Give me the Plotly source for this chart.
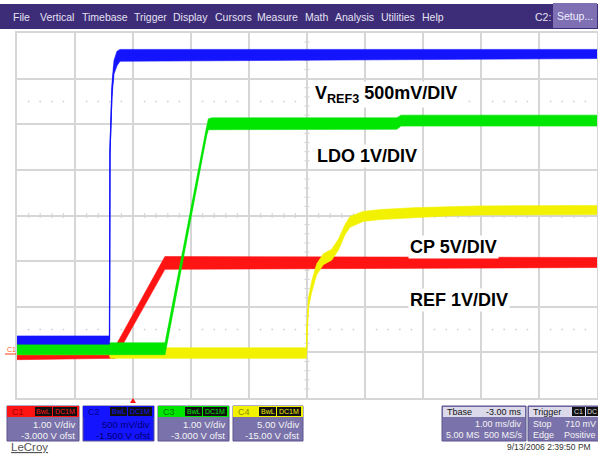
import plotly.graph_objects as go

W, H = 598, 454
# graticule window in pixels (left, right, top, bottom)
GX0, GX1, GY0, GY1 = 17, 597, 33, 398

# time axis (ms) and vertical divisions
t_range = [-2.0, 8.0]
n_vdiv = 8

# channel setup
ch_names = ["C1", "C2", "C3", "C4"]
ch_vdiv = [1.0, 0.5, 1.0, 5.0]
ch_offset = [-3.0, -1.5, -3.0, -15.0]
ch_colors = ["#ff1414", "#1414ff", "#00e600", "#f2f200"]
ch_vdiv_text = ["1.00 V/div", "500 mV/div", "1.00 V/div", "5.00 V/div"]
ch_ofst_text = ["-3.000 V ofst", "-1.500 V ofst", "-3.000 V ofst", "-15.00 V ofst"]

# C1 (REF) envelope, volts
red_t = [-2.0, -0.31, 0.55, 8.0]
red_hi = [0.10, 0.12, 2.10, 2.08]
red_lo = [-0.16, -0.13, 1.82, 1.86]

# C2 (VREF3) envelope, volts
blue_t = [-2.0, -0.405, -0.397, -0.362, -0.328, -0.276, -0.224, 8.0]
blue_hi = [0.18, 0.18, 2.25, 2.95, 3.20, 3.30, 3.32, 3.32]
blue_lo = [0.09, 0.09, 2.15, 2.80, 3.05, 3.14, 3.19, 3.22]

# C3 (LDO) envelope, volts
green_t = [-2.0, 0.552, 1.27, 1.30, 1.36, 4.55, 4.62, 8.0]
green_hi = [0.21, 0.21, 4.95, 5.12, 5.14, 5.14, 5.20, 5.20]
green_lo = [-0.05, -0.05, 4.75, 4.88, 4.89, 4.89, 4.96, 4.96]

# C4 (CP) envelope, volts
yel_t = [-2.0, -0.41, -0.39, 2.99, 3.0, 3.009, 3.026, 3.081, 3.167, 3.281, 3.426,
         3.54, 3.655, 3.741, 3.966, 4.259, 4.828, 5.414, 5.983, 8.0]
yel_hi = [0.5, 0.5, 0.5, 0.5, 3.0, 4.6, 6.0, 7.8, 9.7, 10.8, 11.3,
          12.4, 14.0, 14.9, 15.45, 15.65, 15.85, 15.95, 16.05, 16.1]
yel_lo = [-0.25, -0.25, -0.65, -0.65, 2.0, 3.4, 4.9, 6.6, 8.5, 9.6, 10.1,
          11.2, 12.9, 13.7, 14.35, 14.55, 14.75, 14.95, 15.05, 15.1]

envelopes = {
    "C1": (red_t, red_hi, red_lo),
    "C2": (blue_t, blue_hi, blue_lo),
    "C3": (green_t, green_hi, green_lo),
    "C4": (yel_t, yel_hi, yel_lo),
}
# bottom to top; overlaid axes stack in this same order
draw_order = ["C1", "C4", "C3", "C2"]

menu_items = ["File", "Vertical", "Timebase", "Trigger", "Display", "Cursors",
              "Measure", "Math", "Analysis", "Utilities", "Help"]
menu_x = [11, 38, 80, 132, 171, 213, 255, 303, 333, 379, 420]

MENU_BG = "#3d2c78"
PANEL_BG = "#7a73ab"
GRID = "#d6d6d6"


def px(x):
    return x / W


def py(y):
    return 1 - y / H


def ch_range(i):
    centre = -ch_offset[i]
    half = ch_vdiv[i] * n_vdiv / 2
    return [centre - half, centre + half]


dom_x = [px(GX0), px(GX1)]
dom_y = [py(GY1), py(GY0)]

fig = go.Figure()
layout_axes = {}
for k, name in enumerate(draw_order):
    i = ch_names.index(name)
    yref = "y" if k == 0 else f"y{k + 1}"
    key = "yaxis" if k == 0 else f"yaxis{k + 1}"
    t, hi, lo = envelopes[name]
    fig.add_trace(go.Scatter(
        x=list(t) + list(t)[::-1],
        y=list(hi) + list(lo)[::-1],
        yaxis=yref, fill="toself", fillcolor=ch_colors[i],
        line=dict(width=0.6, color=ch_colors[i]), mode="lines",
        hoverinfo="skip", showlegend=False))
    fig.add_trace(go.Scatter(
        x=t, y=[(a + b) / 2 for a, b in zip(hi, lo)],
        yaxis=yref, mode="lines",
        line=dict(width=1.3, color=ch_colors[i]),
        hoverinfo="skip", showlegend=False))
    ax = dict(domain=dom_y, range=ch_range(i), showticklabels=False,
              ticks="", zeroline=False, fixedrange=True)
    if k == 0:
        ax.update(showgrid=True, gridcolor=GRID, gridwidth=1.5, dtick=ch_vdiv[i],
                  tick0=ch_range(i)[0], showline=True, linecolor=GRID,
                  linewidth=1.5, mirror=True)
    else:
        ax.update(showgrid=False, overlaying="y", visible=False)
    layout_axes[key] = ax

shapes = []
annotations = []

# centre cross with minor ticks
cx = (GX0 + GX1) / 2
cy = (GY0 + GY1) / 2
dx = (GX1 - GX0) / 10
dy = (GY1 - GY0) / n_vdiv
for k in range(1, 50):
    x = GX0 + k * dx / 5
    if k % 5:
        shapes.append(dict(type="line", xref="paper", yref="paper",
                           x0=px(x), x1=px(x), y0=py(cy - 2.5), y1=py(cy + 2.5),
                           line=dict(color=GRID, width=1.2), layer="below"))
for k in range(1, 40):
    y = GY0 + k * dy / 5
    if k % 5:
        shapes.append(dict(type="line", xref="paper", yref="paper",
                           x0=px(cx - 2.5), x1=px(cx + 2.5), y0=py(y), y1=py(y),
                           line=dict(color=GRID, width=1.2), layer="below"))
# dotted reference rows
for yy in (GY0 + 1.5 * dy, GY0 + 6.5 * dy):
    for k in range(1, 50):
        x = GX0 + k * dx / 5
        shapes.append(dict(type="line", xref="paper", yref="paper",
                           x0=px(x - 0.8), x1=px(x + 0.8), y0=py(yy), y1=py(yy),
                           line=dict(color="#cfcfcf", width=1.5), layer="below"))

# blanked patch in the lower graticule
shapes.append(dict(type="rect", xref="paper", yref="paper",
                   x0=px(183), x1=px(290), y0=py(392), y1=py(367),
                   fillcolor="white", line=dict(width=0), layer="between"))

# menu bar
shapes.append(dict(type="rect", xref="paper", yref="paper",
                   x0=0, x1=1, y0=py(29), y1=py(4),
                   fillcolor=MENU_BG, line=dict(width=0), layer="above"))
shapes.append(dict(type="rect", xref="paper", yref="paper",
                   x0=px(553), x1=px(597), y0=py(28), y1=py(3),
                   fillcolor="#7e70b3", line=dict(width=0), layer="above"))
menu_font = dict(family="Liberation Sans", size=10.5, color="#e4e2f2")
for label, x in zip(menu_items, menu_x):
    annotations.append(dict(text=label, x=px(x), y=py(17), xref="paper", yref="paper",
                            xanchor="left", yanchor="middle", showarrow=False,
                            font=menu_font))
annotations.append(dict(text="C2:", x=px(533), y=py(17), xref="paper", yref="paper",
                        xanchor="left", yanchor="middle", showarrow=False,
                        font=menu_font))
annotations.append(dict(text="Setup...", x=px(575), y=py(16), xref="paper", yref="paper",
                        xanchor="center", yanchor="middle", showarrow=False,
                        font=dict(family="Liberation Sans", size=10.5, color="#eeeeff")))

# trace labels
label_font = dict(family="Liberation Sans", size=18, color="black")
trace_labels = [
    ("V<sub>REF3</sub> 500mV/DIV", 313, 95),
    ("LDO 1V/DIV", 315, 156),
    ("CP 5V/DIV", 408, 247),
    ("REF 1V/DIV", 408, 300),
]
for text, x, y in trace_labels:
    annotations.append(dict(text="<b>" + text + "</b>", x=px(x), y=py(y),
                            xref="paper", yref="paper", xanchor="left",
                            yanchor="middle", showarrow=False, font=label_font,
                            bgcolor="white", borderpad=1))

# channel ground marker
annotations.append(dict(text="C1", x=px(11), y=py(349), xref="paper", yref="paper",
                        xanchor="center", yanchor="middle", showarrow=False,
                        font=dict(family="Liberation Sans", size=7, color="#ff5a1e")))
shapes.append(dict(type="line", xref="paper", yref="paper", x0=px(5), x1=px(16),
                   y0=py(354), y1=py(354), line=dict(color="#ff3a1a", width=1)))

# trigger position marker
shapes.append(dict(type="path", xref="paper", yref="paper",
                   path=f"M {px(130)} {py(403)} L {px(136)} {py(403)} L {px(133)} {py(398)} Z",
                   fillcolor="#ff1414", line=dict(width=0)))

# channel descriptor boxes
box_x = [(7, 79), (83, 154), (158, 229), (233, 303)]
hdr_text_col = ["#a00000", "#000090", "#007a00", "#8a8a00"]
for i, (x0, x1) in enumerate(box_x):
    body = ch_colors[i] if i == 1 else PANEL_BG
    shapes.append(dict(type="rect", xref="paper", yref="paper",
                       x0=px(x0), x1=px(x1), y0=py(441), y1=py(406),
                       fillcolor=body, line=dict(width=1, color="#5a5490")))
    shapes.append(dict(type="rect", xref="paper", yref="paper",
                       x0=px(x0), x1=px(x1), y0=py(417), y1=py(406),
                       fillcolor=ch_colors[i], line=dict(width=0)))
    annotations.append(dict(text=ch_names[i], x=px(x0 + 3), y=py(411.5),
                            xref="paper", yref="paper", xanchor="left",
                            yanchor="middle", showarrow=False,
                            font=dict(family="Liberation Sans", size=9, color=hdr_text_col[i])))
    for tag, bx0, bx1 in (("BwL", x1 - 44, x1 - 27), ("DC1M", x1 - 26, x1 - 2)):
        shapes.append(dict(type="rect", xref="paper", yref="paper",
                           x0=px(bx0), x1=px(bx1), y0=py(416), y1=py(407),
                           fillcolor="#111111", line=dict(width=0)))
        annotations.append(dict(text=tag, x=px((bx0 + bx1) / 2), y=py(411.5),
                                xref="paper", yref="paper", xanchor="center",
                                yanchor="middle", showarrow=False,
                                font=dict(family="Liberation Sans", size=7, color=ch_colors[i])))
    txt_col = "#000070" if i == 1 else "#f4f4f4"
    for text, y in ((ch_vdiv_text[i], 424), (ch_ofst_text[i], 435)):
        annotations.append(dict(text=text, x=px(x1 - 2), y=py(y), xref="paper",
                                yref="paper", xanchor="right", yanchor="middle",
                                showarrow=False,
                                font=dict(family="Liberation Sans", size=9.5, color=txt_col)))

# timebase and trigger boxes
for x0, x1 in ((442, 526), (528, 600)):
    shapes.append(dict(type="rect", xref="paper", yref="paper",
                       x0=px(x0), x1=px(x1), y0=py(441), y1=py(406),
                       fillcolor=PANEL_BG, line=dict(width=1, color="#5a5490")))
shapes.append(dict(type="rect", xref="paper", yref="paper",
                   x0=px(443), x1=px(525), y0=py(417), y1=py(407),
                   fillcolor="#dcd9ea", line=dict(width=0)))
shapes.append(dict(type="rect", xref="paper", yref="paper",
                   x0=px(529), x1=px(599), y0=py(417), y1=py(407),
                   fillcolor="#dcd9ea", line=dict(width=0)))
box_texts = [
    ("Tbase", 445, 411.5, "left", "#111111"),
    ("-3.00 ms", 524, 411.5, "right", "#111111"),
    ("1.00 ms/div", 524, 424, "right", "#f4f4f4"),
    ("5.00 MS", 444, 435, "left", "#f4f4f4"),
    ("500 MS/s", 525, 435, "right", "#f4f4f4"),
    ("Trigger", 531, 411.5, "left", "#111111"),
    ("Stop", 531, 424, "left", "#f4f4f4"),
    ("710 mV", 598, 424, "right", "#f4f4f4"),
    ("Edge", 531, 435, "left", "#f4f4f4"),
    ("Positive", 598, 435, "right", "#f4f4f4"),
]
for text, x, y, anchor, col in box_texts:
    annotations.append(dict(text=text, x=px(x), y=py(y), xref="paper", yref="paper",
                            xanchor=anchor, yanchor="middle", showarrow=False,
                            font=dict(family="Liberation Sans", size=9, color=col)))
for tag, bx0, bx1 in (("C1", 572, 585), ("DC", 586, 598)):
    shapes.append(dict(type="rect", xref="paper", yref="paper",
                       x0=px(bx0), x1=px(bx1), y0=py(416), y1=py(407),
                       fillcolor="#111111", line=dict(width=0)))
    annotations.append(dict(text=tag, x=px((bx0 + bx1) / 2), y=py(411.5),
                            xref="paper", yref="paper", xanchor="center",
                            yanchor="middle", showarrow=False,
                            font=dict(family="Liberation Sans", size=7, color="#dddddd")))

annotations.append(dict(text="<u>LeCroy</u>", x=px(9), y=py(447), xref="paper",
                        yref="paper", xanchor="left", yanchor="middle", showarrow=False,
                        font=dict(family="Liberation Sans", size=11.5, color="#555555")))
annotations.append(dict(text="9/13/2006 2:39:50 PM", x=px(593), y=py(447), xref="paper",
                        yref="paper", xanchor="right", yanchor="middle", showarrow=False,
                        font=dict(family="Liberation Sans", size=8.5, color="#333333")))

fig.update_layout(
    width=W, height=H, margin=dict(l=0, r=0, t=0, b=0),
    paper_bgcolor="white", plot_bgcolor="white",
    xaxis=dict(domain=dom_x, range=t_range, showgrid=True, gridcolor=GRID,
               gridwidth=1.5, dtick=1, tick0=t_range[0], showticklabels=False,
               ticks="", zeroline=False, showline=True, linecolor=GRID,
               linewidth=1.5, mirror=True, fixedrange=True),
    shapes=shapes, annotations=annotations, showlegend=False,
    **layout_axes,
)

fig.write_html("out.html")
